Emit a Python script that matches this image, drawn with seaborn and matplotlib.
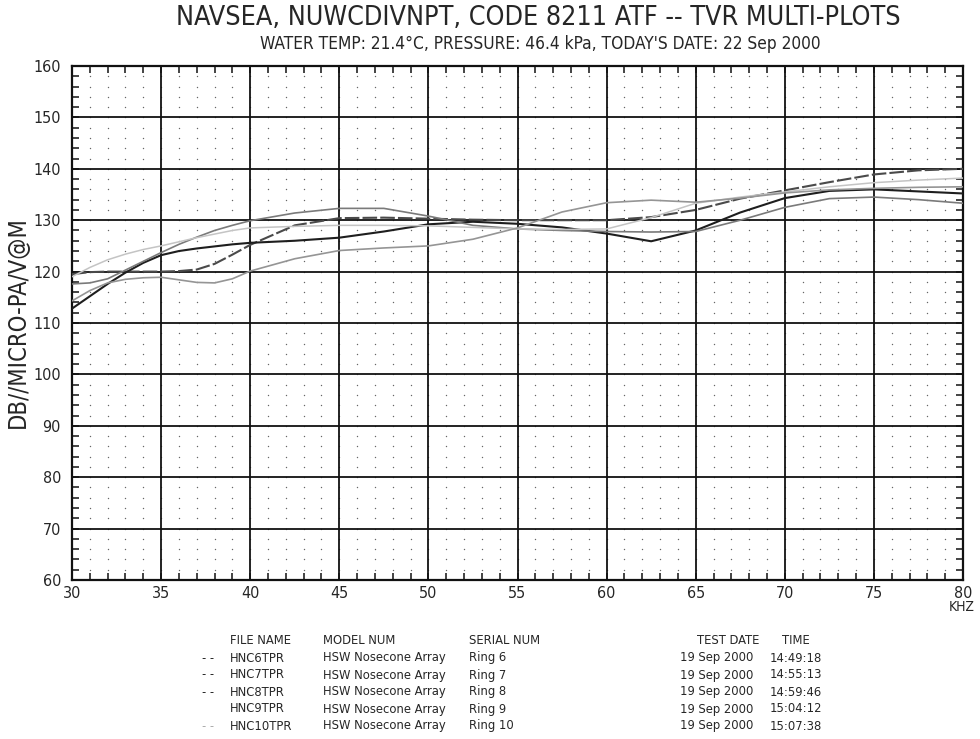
import numpy as np
import pandas as pd
import matplotlib
matplotlib.use("Agg")
import matplotlib.pyplot as plt
import seaborn as sns

# ---------------- data ----------------
freq_khz = [30, 31, 32, 33, 34, 35, 36, 37, 38, 39, 40, 42.5, 45, 47.5, 50,
            52.5, 55, 57.5, 60, 62.5, 65, 67.5, 70, 72.5, 75, 77.5, 80]

ring6 = [119.5, 119.9, 120.0, 120.0, 120.0, 120.0, 120.1, 120.4, 121.5, 123.3, 125.2,
         129.0, 130.4, 130.5, 130.3, 130.1, 130.0, 130.0, 130.0, 130.6, 132.0, 134.2,
         135.8, 137.4, 138.9, 139.7, 140.0]
ring7 = [112.8, 115.2, 117.6, 119.8, 121.7, 123.2, 124.0, 124.5, 124.9, 125.3, 125.6,
         126.0, 126.6, 127.8, 129.2, 129.7, 129.3, 128.6, 127.4, 125.9, 128.0, 131.5,
         134.3, 135.7, 136.0, 135.6, 135.2]
ring8 = [117.6, 117.8, 118.6, 120.3, 122.0, 123.7, 125.3, 126.7, 128.0, 129.0, 129.9,
         131.4, 132.3, 132.3, 130.8, 129.0, 128.3, 128.0, 127.8, 127.7, 127.8, 130.0,
         132.5, 134.2, 134.5, 134.0, 133.3]
ring9 = [119.0, 120.8, 122.3, 123.4, 124.3, 125.0, 125.8, 126.6, 127.3, 128.0, 128.5,
         128.8, 129.0, 129.0, 128.9, 128.6, 128.3, 128.2, 128.3, 130.5, 133.3, 134.5,
         135.5, 136.5, 137.3, 137.8, 138.2]
ring10 = [114.3, 116.3, 117.8, 118.5, 118.8, 118.9, 118.4, 117.9, 117.8, 118.6, 120.1,
          122.5, 124.1, 124.6, 125.0, 126.3, 128.5, 131.6, 133.4, 133.9, 133.5, 134.3,
          135.3, 135.9, 136.2, 136.4, 136.5]

file_names = ["HNC6TPR", "HNC7TPR", "HNC8TPR", "HNC9TPR", "HNC10TPR"]
model_nums = ["HSW Nosecone Array"] * 5
serial_nums = ["Ring 6", "Ring 7", "Ring 8", "Ring 9", "Ring 10"]
test_dates = ["19 Sep 2000"] * 5
test_times = ["14:49:18", "14:55:13", "14:59:46", "15:04:12", "15:07:38"]
legend_marks = ["- -", "- -", "- -", "", "- -"]

x_ticks = [30, 35, 40, 45, 50, 55, 60, 65, 70, 75, 80]
y_ticks = [60, 70, 80, 90, 100, 110, 120, 130, 140, 150, 160]

title = "NAVSEA, NUWCDIVNPT, CODE 8211 ATF -- TVR MULTI-PLOTS"
subtitle = "WATER TEMP: 21.4°C, PRESSURE: 46.4 kPa, TODAY'S DATE: 22 Sep 2000"
y_label = "DB//MICRO-PA/V@M"
x_unit = "KHZ"

series = [ring6, ring7, ring8, ring9, ring10]
df = pd.concat([pd.DataFrame({"freq": freq_khz, "level": s, "file": f})
                for s, f in zip(series, file_names)], ignore_index=True)

# ---------------- style ----------------
sns.set_style("white")
FONT = ["DejaVu Sans"]
plt.rcParams["font.family"] = FONT
plt.rcParams["font.stretch"] = "condensed"

colors = {"HNC6TPR": "#4a4a4a", "HNC7TPR": "#1e1e1e", "HNC8TPR": "#7a7a7a",
          "HNC9TPR": "#c4c4c4", "HNC10TPR": "#959595"}
widths = {"HNC6TPR": 1.5, "HNC7TPR": 1.5, "HNC8TPR": 1.2, "HNC9TPR": 1.1, "HNC10TPR": 1.2}
dashes = {"HNC6TPR": (7, 1.5), "HNC7TPR": "", "HNC8TPR": "", "HNC9TPR": "", "HNC10TPR": ""}

W, H = 980, 739
fig = plt.figure(figsize=(W / 100, H / 100), dpi=100)
L, R, T, B = 72, 963, 66, 580
ax = fig.add_axes([L / W, 1 - B / H, (R - L) / W, (B - T) / H])

# minor dot grid (decoration)
mx = np.arange(30, 80.01, 1)
my = np.arange(60, 160.01, 2)
gx, gy = np.meshgrid(mx, my)
ax.scatter(gx.ravel(), gy.ravel(), s=1.0, c="#666666", linewidths=0, zorder=1)

for v in x_ticks[1:-1]:
    ax.axvline(v, color="#111111", lw=1.3, zorder=2)
for v in y_ticks[1:-1]:
    ax.axhline(v, color="#111111", lw=1.3, zorder=2)

sns.lineplot(data=df, x="freq", y="level", hue="file", style="file",
             palette=colors, dashes=dashes, size="file", sizes=widths,
             legend=False, ax=ax, zorder=3)

ax.set_xlim(30, 80)
ax.set_ylim(60, 160)
ax.set_xticks(x_ticks)
ax.set_yticks(y_ticks)
ax.set_xticks(mx, minor=True)
ax.set_yticks(my, minor=True)
ax.set_xticklabels([str(v) for v in x_ticks], fontsize=11.5)
ax.set_yticklabels([str(v) for v in y_ticks], fontsize=11.5)
ax.tick_params(axis="both", which="both", direction="in", color="#111111")
ax.tick_params(axis="y", which="both", left=True, right=True, length=5, width=1.1, pad=8)
ax.tick_params(axis="x", which="both", top=True, bottom=True, length=5, width=1.1, pad=4)
ax.set_xlabel("")
ax.set_ylabel("")
for sp in ax.spines.values():
    sp.set_visible(True)
    sp.set_color("#111111")
    sp.set_linewidth(1.6)

# texts
fig.text(538 / W, 1 - 18 / H, title, ha="center", va="center", fontsize=19.3)
fig.text(540 / W, 1 - 44 / H, subtitle, ha="center", va="center", fontsize=12.4)
fig.text(18 / W, 1 - 322 / H, y_label, rotation=90, ha="center", va="center", fontsize=17)
fig.text(962 / W, 1 - 607 / H, x_unit, ha="center", va="center", fontsize=10)

TS = 9.3
hdr_y = 641
cols_hdr = [(230, "FILE NAME"), (323, "MODEL NUM"), (469, "SERIAL NUM"),
            (697, "TEST DATE"), (782, "TIME")]
for xp, txt in cols_hdr:
    fig.text(xp / W, 1 - hdr_y / H, txt, ha="left", va="center", fontsize=TS)

for i in range(len(file_names)):
    yp = 1 - (658 + 17 * i) / H
    mc = "#aaaaaa" if i == 4 else "#222222"
    fig.text(202 / W, yp, legend_marks[i], ha="left", va="center", fontsize=TS, color=mc)
    fig.text(230 / W, yp, file_names[i], ha="left", va="center", fontsize=TS)
    fig.text(323 / W, yp, model_nums[i], ha="left", va="center", fontsize=TS)
    fig.text(469 / W, yp, serial_nums[i], ha="left", va="center", fontsize=TS)
    fig.text(680 / W, yp, test_dates[i], ha="left", va="center", fontsize=TS)
    fig.text(770 / W, yp, test_times[i], ha="left", va="center", fontsize=TS)

fig.savefig("out.png", dpi=100, facecolor="white")
